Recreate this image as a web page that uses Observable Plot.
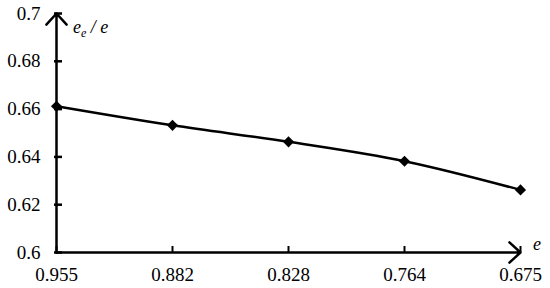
<!DOCTYPE html>
<html><head><meta charset="utf-8">
<script src="https://cdn.jsdelivr.net/npm/d3@7"></script>
<script src="https://cdn.jsdelivr.net/npm/@observablehq/plot@0.6"></script>
<style>
body{margin:0;background:#fff}
svg, svg text { font-family: "Liberation Serif", "Times New Roman", serif !important; }
</style>
</head><body><div id="chart"></div>
<script>
const categories = ["0.955", "0.882", "0.828", "0.764", "0.675"];
const ratioValues = [0.6612, 0.6532, 0.6463, 0.6382, 0.6262];
const yTickValues = [0.6, 0.62, 0.64, 0.66, 0.68, 0.7];
const yTickLabels = ["0.6", "0.62", "0.64", "0.66", "0.68", "0.7"];
const data = categories.map((c, i) => ({e: c, r: ratioValues[i]}));
const font = "Liberation Serif";

const plot = Plot.plot({
  width: 550, height: 288,
  marginLeft: 54, marginRight: 29, marginTop: 13, marginBottom: 36,
  style: {fontFamily: font, fontSize: "19px", background: "#fff", color: "#000", overflow: "visible"},
  x: {type: "point", domain: categories, padding: 0, label: null},
  y: {domain: [0.6, 0.7], label: null},
  marks: [
    Plot.axisY({
      ticks: yTickValues,
      tickFormat: d => yTickLabels[yTickValues.findIndex(v => Math.abs(v - d) < 1e-9)],
      tickSize: -8, tickPadding: 22, strokeWidth: 2.5, fontSize: 19, label: null
    }),
    Plot.axisX({tickSize: -6, tickPadding: 21, strokeWidth: 2, fontSize: 19, label: null}),
    Plot.arrow([0], {x1: () => categories[0], x2: () => categories[categories.length - 1], y1: 0.6, y2: 0.6,
      stroke: "#000", strokeWidth: 2.5, headLength: 9, headAngle: 85}),
    Plot.arrow([0], {x1: () => categories[0], x2: () => categories[0], y1: 0.6, y2: 0.7,
      stroke: "#000", strokeWidth: 2.5, headLength: 9, headAngle: 85}),
    Plot.line(data, {x: "e", y: "r", curve: "catmull-rom", stroke: "#000", strokeWidth: 2.5}),
    Plot.dot(data, {x: "e", y: "r", symbol: "diamond2", r: 5, fill: "#000", stroke: null})
  ]
});

const xs = plot.scale("x"), ys = plot.scale("y");
const svg = d3.select(plot);
const yl = svg.append("text")
  .attr("x", xs.apply(categories[0]) + 17)
  .attr("y", ys.apply(0.7) + 20)
  .attr("text-anchor", "start")
  .attr("font-style", "italic").attr("font-size", 18).attr("fill", "#000");
yl.append("tspan").text("e");
yl.append("tspan").attr("font-size", 12).attr("dy", 4).text("e");
yl.append("tspan").attr("dy", -4).text(" / e");
svg.append("text")
  .attr("x", xs.apply(categories[categories.length - 1]) + 13)
  .attr("y", ys.apply(0.6) - 2)
  .attr("text-anchor", "start")
  .attr("font-style", "italic").attr("font-size", 18).attr("fill", "#000")
  .text("e");
svg.selectAll("text, tspan").style("font-family", "'Liberation Serif'");
svg.selectAll("g[aria-label$='tick label']").style("font-size", "19px").attr("font-size", 19);
document.getElementById("chart").appendChild(plot);
</script>
</body></html>
